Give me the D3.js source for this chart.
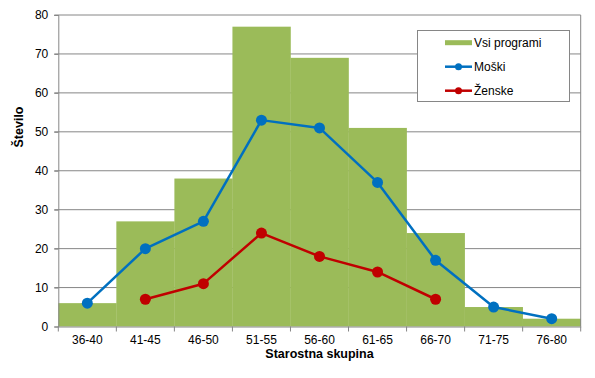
<!DOCTYPE html>
<html><head><meta charset="utf-8">
<script src="https://cdn.jsdelivr.net/npm/d3@7"></script>
<style>body{margin:0;background:#fff}svg{display:block;font-family:"Liberation Sans",Arial,sans-serif}</style>
</head><body><svg id="c" width="595" height="378"></svg>
<script>
const categories = ["36-40","41-45","46-50","51-55","56-60","61-65","66-70","71-75","76-80"];
const vsi = [6,27,38,77,69,51,24,5,2];
const moski = [6,20,27,53,51,37,17,5,2];
const zenske = [null,7,11,24,18,14,7,null,null];
const yTicks = [0,10,20,30,40,50,60,70,80];
const seriesNames = ["Vsi programi","Moški","Ženske"];
const colors = {bar:"#9BBB59", m:"#0070C0", z:"#C00000", grid:"#868686"};

const svg = d3.select("#c");
const m = {l:58.3, r:580.7, t:15, b:326.5};
const x = d3.scaleBand().domain(categories).range([m.l, m.r]).padding(0);
const y = d3.scaleLinear().domain([0,80]).range([m.b, m.t]);

// gridlines
svg.append("g").selectAll("line").data(yTicks.filter(d=>d>0)).join("line")
  .attr("x1", m.l-4).attr("x2", m.r).attr("y1", d=>y(d)).attr("y2", d=>y(d))
  .attr("stroke", colors.grid).attr("stroke-width", 1);

// bars
svg.append("g").selectAll("rect").data(vsi).join("rect")
  .attr("x", (d,i)=>x(categories[i])).attr("width", x.bandwidth()+0.3)
  .attr("y", d=>y(d)).attr("height", d=>y(0)-y(d)).attr("fill", colors.bar);

// axes
const yAxis = svg.append("g").attr("transform", `translate(${m.l},0)`)
  .call(d3.axisLeft(y).tickValues(yTicks).tickSize(4).tickPadding(6));
yAxis.select(".domain").attr("stroke", colors.grid);
yAxis.selectAll(".tick line").attr("stroke", colors.grid);
yAxis.selectAll("text").attr("font-size", 12).attr("fill","#000").attr("font-family","Liberation Sans, Arial, sans-serif");

svg.append("line").attr("x1", m.r).attr("x2", m.r).attr("y1", m.t).attr("y2", m.b).attr("stroke", colors.grid);

const xAxis = svg.append("g").attr("transform", `translate(0,${m.b})`)
  .call(d3.axisBottom(x).tickSize(0).tickPadding(9));
xAxis.select(".domain").attr("stroke", colors.grid);
xAxis.selectAll("text").attr("font-size", 12).attr("fill","#000").attr("font-family","Liberation Sans, Arial, sans-serif");
// boundary tick marks
const bounds = categories.map(c=>x(c)).concat([m.r]);
svg.append("g").selectAll("line").data(bounds).join("line")
  .attr("x1", d=>d).attr("x2", d=>d).attr("y1", m.b).attr("y2", m.b+5).attr("stroke", colors.grid);

// lines
function drawSeries(vals, color){
  const pts = vals.map((v,i)=>({v, c:categories[i]})).filter(d=>d.v!==null);
  const line = d3.line().x(d=>x(d.c)+x.bandwidth()/2).y(d=>y(d.v));
  svg.append("path").datum(pts).attr("d", line).attr("fill","none")
    .attr("stroke", color).attr("stroke-width", 2.5).attr("stroke-linejoin","round");
  svg.append("g").selectAll("circle").data(pts).join("circle")
    .attr("cx", d=>x(d.c)+x.bandwidth()/2).attr("cy", d=>y(d.v)).attr("r", 5.5).attr("fill", color);
}
drawSeries(moski, colors.m);
drawSeries(zenske, colors.z);

// axis titles
svg.append("text").attr("x", (m.l+m.r)/2).attr("y", 358).attr("text-anchor","middle")
  .attr("font-size", 12.5).attr("font-weight","bold").text("Starostna skupina");
svg.append("text").attr("transform","translate(23,127) rotate(-90)").attr("text-anchor","middle")
  .attr("font-size", 12.5).attr("font-weight","bold").text("Število");

// legend
const lg = svg.append("g");
lg.append("rect").attr("x", 417.5).attr("y", 30.5).attr("width", 152).attr("height", 71)
  .attr("fill","#fff").attr("stroke", colors.grid);
const rows = [42.7, 66.7, 90.7];
const lcol = [colors.bar, colors.m, colors.z];
seriesNames.forEach((n,i)=>{
  if(i===0){
    lg.append("rect").attr("x",445).attr("y",rows[i]-2.5).attr("width",27).attr("height",5).attr("fill",lcol[i]);
  } else {
    lg.append("line").attr("x1",445).attr("x2",472).attr("y1",rows[i]).attr("y2",rows[i]).attr("stroke",lcol[i]).attr("stroke-width",2.5);
    lg.append("circle").attr("cx",458.5).attr("cy",rows[i]).attr("r",3.5).attr("fill",lcol[i]);
  }
  lg.append("text").attr("x",474).attr("y",rows[i]+4).attr("font-size",12).text(n);
});
</script></body></html>
